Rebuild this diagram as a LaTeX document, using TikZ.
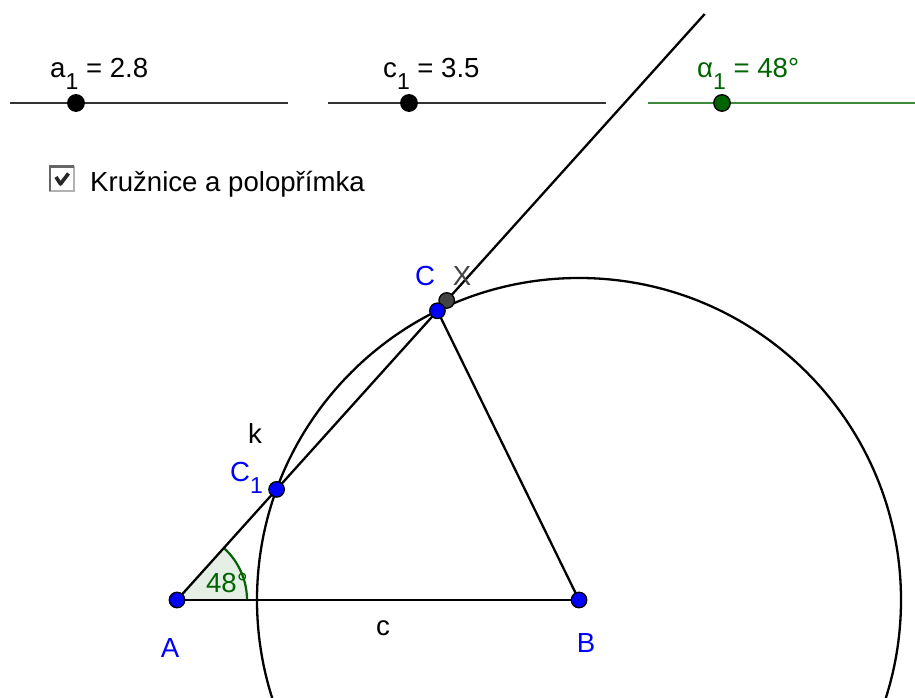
\documentclass[tikz,border=0pt]{standalone}
\usepackage{fontspec}
\setmainfont{Liberation Sans}
\usetikzlibrary{calc}
\definecolor{ggblue}{RGB}{0,0,255}
\definecolor{gggreen}{RGB}{0,100,0}
\definecolor{ggslgreen}{RGB}{60,140,60}
\definecolor{ggfill}{RGB}{229,239,229}
\definecolor{gggrey}{RGB}{68,68,68}
\begin{document}
\begin{tikzpicture}[x=1pt,y=1pt,
  lbl/.style={font=\fontsize{27.6}{30}\selectfont, inner sep=0pt},
  geo/.style={line width=2.3pt, black},
  slider/.style={line width=2.2pt, black!80},
  ptblue/.style={circle, draw=black, line width=1.3pt, fill=ggblue, minimum size=15.5pt, inner sep=0pt},
  ptgrey/.style={circle, draw=black, line width=1.3pt, fill=gggrey, minimum size=15.5pt, inner sep=0pt},
  ptblack/.style={circle, draw=black, line width=1.3pt, fill=black, minimum size=16.5pt, inner sep=0pt},
  ptgreen/.style={circle, draw=black, line width=1.3pt, fill=gggreen, minimum size=16.5pt, inner sep=0pt}]
\newcommand{\sbx}[1]{\raisebox{-12pt}{\fontsize{23}{23}\selectfont #1}}
\useasboundingbox (0,0) rectangle (915,698);
% geometry coordinates
\coordinate (A) at (177,98);
\coordinate (B) at (579,98);
\coordinate (C) at (437.4,387.2);
\coordinate (C1) at (276.6,208.6);
\coordinate (X) at (446.7,397.5);
\coordinate (R) at (704.7,684);
% circle k
\begin{scope}
  \clip (0,0) rectangle (915,698);
  \draw[geo] (B) circle[radius=322pt];
\end{scope}
% angle sector
\fill[ggfill] (A) -- ++(70pt,0) arc[start angle=0,end angle=48,radius=70pt] -- cycle;
\draw[gggreen, line width=2.2pt] ($(A)+(70pt,0)$) arc[start angle=0,end angle=48,radius=70pt];
% lines
\draw[geo] (A) -- (R);
\draw[geo] (A) -- (B);
\draw[geo] (B) -- (C);
% sliders
\coordinate (sa1) at (10,595); \coordinate (sa2) at (288,595);
\coordinate (sc1) at (328,595); \coordinate (sc2) at (606,595);
\coordinate (sg1) at (648,595); \coordinate (sg2) at (915,595);
\draw[slider] (sa1) -- (sa2);
\draw[slider] (sc1) -- (sc2);
\draw[line width=2.2pt, ggslgreen] (sg1) -- (sg2);
\node[ptblack] (pa) at (76,595) {};
\node[ptblack] (pc) at (409,595) {};
\node[ptgreen] (pg) at (722,595) {};
\node[lbl, anchor=base west] (ta) at (50,620) {a\sbx{1} = 2.8};
\node[lbl, anchor=base west] (tc) at (383,620) {c\sbx{1} = 3.5};
\node[lbl, anchor=base west, text=gggreen] (tg) at (697,620) {α\sbx{1} = 48°};
% checkbox
\node[draw=black!30, line width=1.5pt, minimum size=24pt, inner sep=0pt, fill=white] (cb) at (62,519) {};
\draw[black!60, line width=2.5pt] ($(cb.south west)+(0.5,0.5)$) -- ($(cb.north west)+(0.5,-0.5)$) -- ($(cb.north east)+(-0.5,-0.5)$);
\draw[black!85, line width=3.6pt, line join=round] ($(cb.center)+(-6,2)$) -- ($(cb.center)+(-1.5,-5)$) -- ($(cb.center)+(6.5,5.5)$);
\node[lbl, anchor=base west] (tcb) at (90,506) {Kružnice a polopřímka};
% points
\node[ptgrey] (pX) at (X) {};
\node[ptblue] (pA) at (A) {};
\node[ptblue] (pB) at (B) {};
\node[ptblue] (pC) at (C) {};
\node[ptblue] (pC1) at (C1) {};
% labels
\node[lbl] (lk) at (255,264) {k};
\node[lbl, text=ggblue, anchor=base west] (lC1) at (230,216) {C\sbx{1}};
\node[lbl, text=ggblue] (lA) at (170,50) {A};
\node[lbl, text=ggblue] (lB) at (586,55) {B};
\node[lbl] (lc) at (383,70) {c};
\node[lbl, text=ggblue] (lC) at (425,422) {C};
\node[lbl, text=gggrey] (lX) at (462,422) {X};
\node[lbl, text=gggreen] (l48) at (227,115) {48°};
\end{tikzpicture}
\end{document}
